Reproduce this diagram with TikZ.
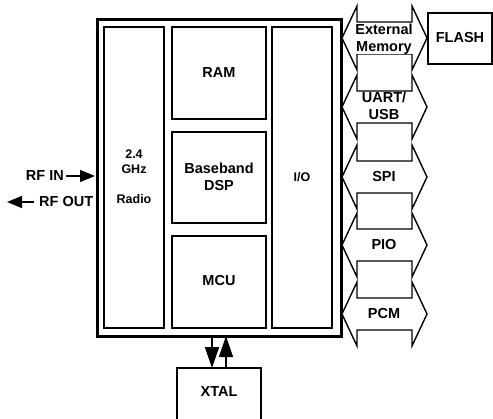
\documentclass[tikz,border=0pt]{standalone}
\usepackage{fontspec}
\setmainfont{Liberation Sans}
\usetikzlibrary{arrows.meta}
\begin{document}
\begin{tikzpicture}[x=1pt,y=-1pt,
  lbl/.style={font=\bfseries\fontsize{14.5}{16.5}\selectfont,align=center,inner sep=0pt},
  slbl/.style={font=\bfseries\fontsize{12.5}{15}\selectfont,align=center,inner sep=0pt},
  blk/.style={draw,line width=1.5pt},
  bus/.style={draw,line width=1.4pt,fill=white},
  bigtip/.style={line width=1.4pt,-{Triangle[length=21pt,width=14pt]}},
  rftip/.style={line width=1.4pt,-{Triangle[length=15pt,width=12pt]}}]
\useasboundingbox (0,0) rectangle (493,418);
\clip (0,0) rectangle (493,418);
% outer chip
\draw[line width=3pt] (97,19) rectangle (341,336);
\coordinate (chipL1) at (97,176);
\coordinate (chipL2) at (97,202);
\coordinate (chipB1) at (212,336);
\coordinate (chipB2) at (226,336);
% inner blocks
\draw[blk] (104,27) rectangle (164,328);
\node[slbl,font=\bfseries\fontsize{12.5}{15}\selectfont] (radio) at (134,177) {2.4\\GHz\\\mbox{}\\Radio};
\draw[blk] (172,27) rectangle (266,119);
\node[lbl] (ram) at (219,73) {RAM};
\draw[blk] (172,132) rectangle (266,223);
\node[lbl] (dsp) at (219,177) {Baseband\\DSP};
\draw[blk] (172,236) rectangle (266,328);
\node[lbl] (mcu) at (219,281) {MCU};
\draw[blk] (272,27) rectangle (332,328);
\node[slbl] (io) at (302,177) {I/O};
% buses
\foreach \c/\nm in {38/b1,107/b2,177/b3,245/b4,314/b5}{
  \draw[bus] (342,\c) -- (357,\c-32) -- (357,\c-16) -- (412,\c-16) -- (412,\c-32)
    -- (427,\c) -- (412,\c+32) -- (412,\c+16) -- (357,\c+16) -- (357,\c+32) -- cycle;
}
\node[lbl,fill=white] (ext) at (384,39) {External\\Memory};
\node[lbl,fill=white] (uart) at (384,106) {UART/\\USB};
\node[lbl] (spi) at (384,177) {SPI};
\node[lbl] (pio) at (384,245) {PIO};
\node[lbl] (pcm) at (384,314) {PCM};
% FLASH
\draw[blk] (428,13) rectangle (492,64);
\node[lbl] (flash) at (460,38) {FLASH};
% XTAL
\draw[blk] (177,368) rectangle (261,430);
\node[lbl] (xtal) at (219,392) {XTAL};
\coordinate (xtT1) at (212,368);
\coordinate (xtT2) at (226,368);
\draw[bigtip] (chipB1) -- (xtT1);
\draw[bigtip] (xtT2) -- (chipB2);
% RF
\node[lbl,anchor=east] (rfin) at (64,176) {RF IN};
\node[lbl,anchor=west] (rfout) at (39,202) {RF OUT};
\coordinate (rfinS) at (66,176);
\coordinate (rfoutE) at (7,202);
\coordinate (rfoutS) at (34,202);
\draw[rftip] (rfinS) -- ([xshift=-2pt]chipL1);
\draw[rftip] (rfoutS) -- (rfoutE);
\end{tikzpicture}
\end{document}
